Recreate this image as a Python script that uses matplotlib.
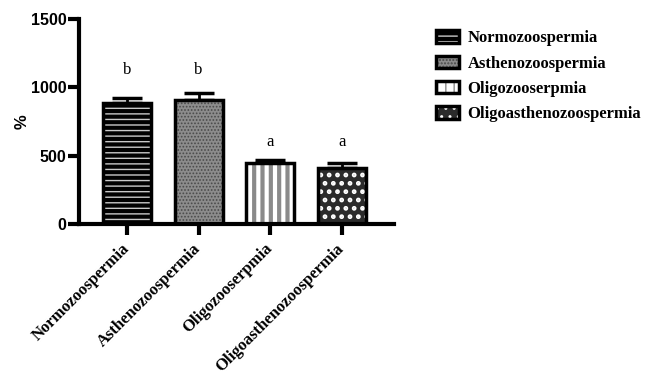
import numpy as np
import matplotlib
matplotlib.use("Agg")
import matplotlib.pyplot as plt
from matplotlib.legend_handler import HandlerTuple

groups = ['Normozoospermia', 'Asthenozoospermia', 'Oligozooserpmia', 'Oligoasthenozoospermia']
means = [885, 908, 445, 412]
sems = [40, 52, 22, 33]
letters = ['b', 'b', 'a', 'a']
letter_y = [1125, 1125, 600, 600]

# fill / hatch style per bar
face = ['black', '#8c8c8c', 'white', '#2b2b2b']
hatch = ['---', '.....', '||', '..']
hcolor = ['#c8c8c8', '#4a4a4a', '#8a8a8a', 'white']
hlw = [1.0, 0.8, 3.0, 2.2]

fig = plt.figure(figsize=(6.49, 3.71), dpi=100)
ax = fig.add_axes([0.1217, 0.396, 0.4853, 0.5525])

x = np.arange(len(groups))
width = 0.67
handles = []
for i in range(len(groups)):
    with plt.rc_context({'hatch.linewidth': hlw[i]}):
        b1 = ax.bar(x[i], means[i], width, color=face[i], hatch=hatch[i],
                    edgecolor=hcolor[i], linewidth=0, zorder=2)
    b2 = ax.bar(x[i], means[i], width, fill=False, edgecolor='black',
                linewidth=2.5, zorder=3)
    handles.append((b1[0], b2[0]))

ax.errorbar(x, means, yerr=[np.zeros(len(sems)), sems], fmt='none',
            ecolor='black', elinewidth=2, capsize=11, capthick=2.5, zorder=1)

for i in range(len(groups)):
    ax.text(x[i], letter_y[i], letters[i], ha='center', va='center',
            fontsize=12, family='Liberation Serif')

ax.set_xlim(-0.67, 3.73)
ax.set_ylim(0, 1500)
ax.set_yticks([0, 500, 1000, 1500])
ax.set_xticks(x)
ax.set_xticklabels(groups, rotation=45, ha='right', va='center',
                   rotation_mode='anchor', fontsize=12,
                   family='Liberation Serif', fontweight='bold')
for lab in ax.get_yticklabels():
    lab.set_family('Liberation Sans')
    lab.set_fontweight('bold')
    lab.set_fontsize(11.5)
ax.tick_params(axis='y', length=8, width=3, pad=1)
ax.tick_params(axis='x', length=8, width=3, pad=8)
ax.spines['top'].set_visible(False)
ax.spines['right'].set_visible(False)
ax.spines['left'].set_linewidth(3)
ax.spines['bottom'].set_linewidth(3)
ax.set_ylabel('%', fontsize=12, fontweight='bold', family='Liberation Sans', labelpad=1)

fig.legend(handles, groups, handler_map={tuple: HandlerTuple(ndivide=1, pad=0)},
           loc='upper left', bbox_to_anchor=(0.672, 0.918), frameon=False,
           borderaxespad=0, borderpad=0,
           prop={'family': 'Liberation Serif', 'weight': 'bold', 'size': 12},
           handlelength=1.38, handleheight=0.78, handletextpad=0.5, labelspacing=0.55)

fig.savefig('out.png', dpi=100)
